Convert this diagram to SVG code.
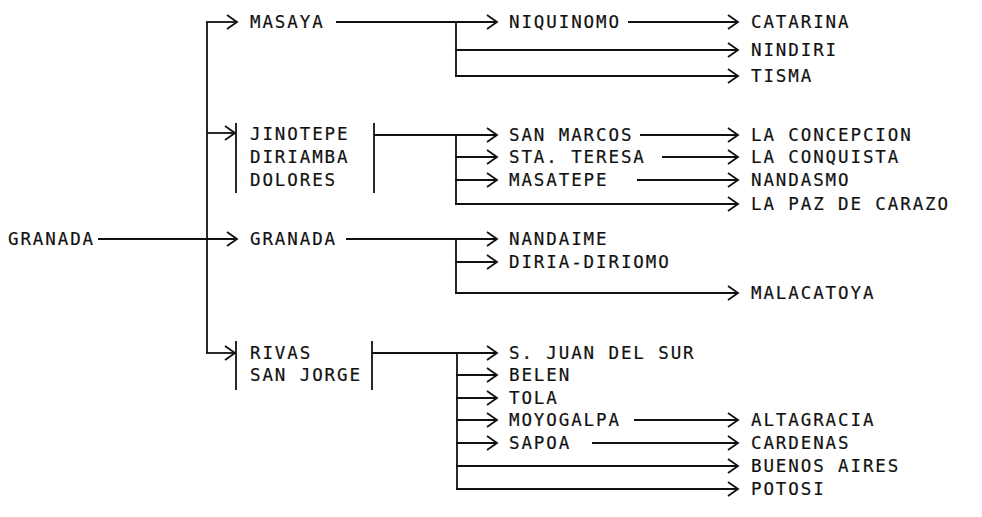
<svg xmlns="http://www.w3.org/2000/svg" width="982" height="517" viewBox="0 0 982 517">
<defs>
<style>
text{font-family:"DejaVu Sans Mono","Liberation Mono",monospace;font-size:17.5px;letter-spacing:1.9px;fill:#111;stroke:#111;stroke-width:0.2}
.c line{stroke:#111;stroke-width:1.8;fill:none}
.a{marker-end:url(#ah)}
</style>
<marker id="ah" markerUnits="userSpaceOnUse" markerWidth="14" markerHeight="18" refX="11" refY="8" orient="auto">
<path d="M1,1 L11,8 L1,15" stroke="#111" stroke-width="1.8" fill="none"/>
</marker>
</defs>
<rect width="982" height="517" fill="#fff"/>
<g id="connectors" class="c">
<line x1="98" y1="239" x2="237" y2="239" class="a"/>
<line x1="207" y1="22" x2="207" y2="353"/>
<line x1="206" y1="22" x2="237" y2="22" class="a"/>
<line x1="207" y1="133" x2="235" y2="133" class="a"/>
<line x1="206" y1="353" x2="235" y2="353" class="a"/>
<line x1="236" y1="123" x2="236" y2="193"/>
<line x1="236" y1="341" x2="236" y2="390"/>
<line x1="374" y1="123" x2="374" y2="193"/>
<line x1="372" y1="341" x2="372" y2="390"/>
<line x1="336" y1="22" x2="497" y2="22" class="a"/>
<line x1="456" y1="22" x2="456" y2="76"/>
<line x1="455" y1="50" x2="738" y2="50" class="a"/>
<line x1="455" y1="76" x2="738" y2="76" class="a"/>
<line x1="628" y1="22" x2="738" y2="22" class="a"/>
<line x1="374" y1="135" x2="497" y2="135" class="a"/>
<line x1="456" y1="135" x2="456" y2="204"/>
<line x1="455" y1="157" x2="497" y2="157" class="a"/>
<line x1="455" y1="180" x2="497" y2="180" class="a"/>
<line x1="455" y1="204" x2="738" y2="204" class="a"/>
<line x1="640" y1="135" x2="738" y2="135" class="a"/>
<line x1="662" y1="157" x2="738" y2="157" class="a"/>
<line x1="637" y1="180" x2="738" y2="180" class="a"/>
<line x1="346" y1="239" x2="497" y2="239" class="a"/>
<line x1="456" y1="239" x2="456" y2="293"/>
<line x1="455" y1="262" x2="497" y2="262" class="a"/>
<line x1="455" y1="293" x2="738" y2="293" class="a"/>
<line x1="372" y1="353" x2="497" y2="353" class="a"/>
<line x1="457" y1="353" x2="457" y2="489"/>
<line x1="456" y1="375" x2="497" y2="375" class="a"/>
<line x1="456" y1="398" x2="497" y2="398" class="a"/>
<line x1="456" y1="420" x2="497" y2="420" class="a"/>
<line x1="456" y1="443" x2="497" y2="443" class="a"/>
<line x1="456" y1="466" x2="738" y2="466" class="a"/>
<line x1="456" y1="489" x2="738" y2="489" class="a"/>
<line x1="634" y1="420" x2="738" y2="420" class="a"/>
<line x1="592" y1="443" x2="738" y2="443" class="a"/>
</g>
<g id="n-granada-origen"><text x="8" y="245">GRANADA</text></g>
<g id="n-masaya"><text x="250" y="28">MASAYA</text></g>
<g id="n-jinotepe"><text x="250" y="140">JINOTEPE</text><text x="250" y="163">DIRIAMBA</text><text x="250" y="186">DOLORES</text></g>
<g id="n-granada"><text x="250" y="245">GRANADA</text></g>
<g id="n-rivas"><text x="250" y="359">RIVAS</text><text x="250" y="381">SAN JORGE</text></g>
<g id="n-niquinomo"><text x="509" y="28">NIQUINOMO</text></g>
<g id="n-catarina"><text x="751" y="28">CATARINA</text></g>
<g id="n-nindiri"><text x="751" y="56">NINDIRI</text></g>
<g id="n-tisma"><text x="751" y="82">TISMA</text></g>
<g id="n-san-marcos"><text x="509" y="141">SAN MARCOS</text></g>
<g id="n-sta-teresa"><text x="509" y="163">STA. TERESA</text></g>
<g id="n-masatepe"><text x="509" y="186">MASATEPE</text></g>
<g id="n-la-concepcion"><text x="751" y="141">LA CONCEPCION</text></g>
<g id="n-la-conquista"><text x="751" y="163">LA CONQUISTA</text></g>
<g id="n-nandasmo"><text x="751" y="186">NANDASMO</text></g>
<g id="n-la-paz"><text x="751" y="210">LA PAZ DE CARAZO</text></g>
<g id="n-nandaime"><text x="509" y="245">NANDAIME</text></g>
<g id="n-diria"><text x="509" y="268">DIRIA-DIRIOMO</text></g>
<g id="n-malacatoya"><text x="751" y="299">MALACATOYA</text></g>
<g id="n-s-juan"><text x="509" y="359">S. JUAN DEL SUR</text></g>
<g id="n-belen"><text x="509" y="381">BELEN</text></g>
<g id="n-tola"><text x="509" y="404">TOLA</text></g>
<g id="n-moyogalpa"><text x="509" y="426">MOYOGALPA</text></g>
<g id="n-sapoa"><text x="509" y="449">SAPOA</text></g>
<g id="n-altagracia"><text x="751" y="426">ALTAGRACIA</text></g>
<g id="n-cardenas"><text x="751" y="449">CARDENAS</text></g>
<g id="n-buenos-aires"><text x="751" y="472">BUENOS AIRES</text></g>
<g id="n-potosi"><text x="751" y="495">POTOSI</text></g>
</svg>
